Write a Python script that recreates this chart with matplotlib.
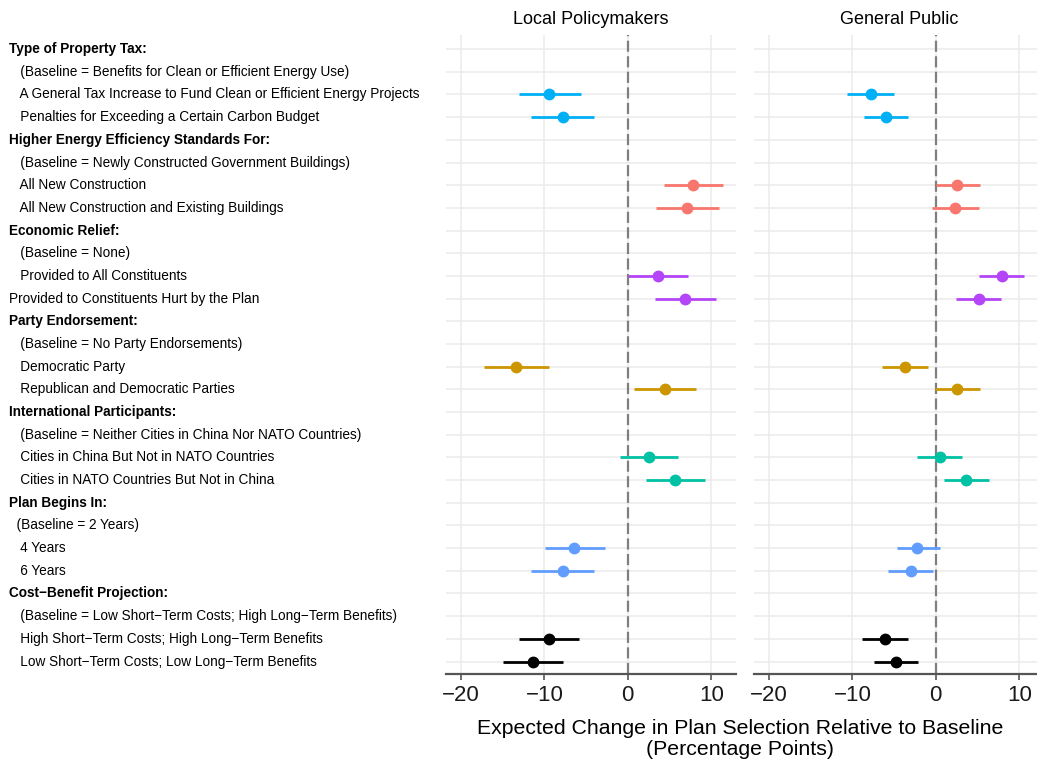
import matplotlib.pyplot as plt
import matplotlib.transforms as mtransforms

plt.rcParams['font.family'] = ['Liberation Sans', 'DejaVu Sans']

# row labels, top to bottom (headers end with ":")
labels = [
    "Type of Property Tax:",
    "   (Baseline = Benefits for Clean or Efficient Energy Use)",
    "   A General Tax Increase to Fund Clean or Efficient Energy Projects",
    "   Penalties for Exceeding a Certain Carbon Budget",
    "Higher Energy Efficiency Standards For:",
    "   (Baseline = Newly Constructed Government Buildings)",
    "   All New Construction",
    "   All New Construction and Existing Buildings",
    "Economic Relief:",
    "   (Baseline = None)",
    "   Provided to All Constituents",
    "Provided to Constituents Hurt by the Plan",
    "Party Endorsement:",
    "   (Baseline = No Party Endorsements)",
    "   Democratic Party",
    "   Republican and Democratic Parties",
    "International Participants:",
    "   (Baseline = Neither Cities in China Nor NATO Countries)",
    "   Cities in China But Not in NATO Countries",
    "   Cities in NATO Countries But Not in China",
    "Plan Begins In:",
    "  (Baseline = 2 Years)",
    "   4 Years",
    "   6 Years",
    "Cost\u2212Benefit Projection:",
    "   (Baseline = Low Short\u2212Term Costs; High Long\u2212Term Benefits)",
    "   High Short\u2212Term Costs; High Long\u2212Term Benefits",
    "   Low Short\u2212Term Costs; Low Long\u2212Term Benefits",
]

# rows that carry an estimate (index into labels) and their group
est_rows = [2, 3, 6, 7, 10, 11, 14, 15, 18, 19, 22, 23, 26, 27]
est_group = [0, 0, 1, 1, 2, 2, 3, 3, 4, 4, 5, 5, 6, 6]
group_colors = ['#00B0F6', '#F8766D', '#B445F8', '#CD9600', '#00C1A3', '#619CFF', '#000000']

# local policymakers
lp_est = [-9.4, -7.8, 7.8, 7.1, 3.6, 6.9, -13.4, 4.45, 2.5, 5.7, -6.4, -7.8, -9.4, -11.4]
lp_lo = [-13.1, -11.6, 4.3, 3.35, 0.0, 3.25, -17.25, 0.8, -0.9, 2.15, -9.95, -11.6, -13.0, -14.95]
lp_hi = [-5.6, -4.1, 11.4, 10.9, 7.2, 10.55, -9.5, 8.2, 6.0, 9.25, -2.7, -4.0, -5.8, -7.8]

# general public
gp_est = [-7.8, -6.0, 2.6, 2.35, 7.9, 5.15, -3.65, 2.6, 0.45, 3.65, -2.2, -3.0, -6.1, -4.8]
gp_lo = [-10.6, -8.55, 0.0, -0.4, 5.15, 2.45, -6.4, -0.1, -2.2, 1.0, -4.7, -5.7, -8.85, -7.4]
gp_hi = [-5.0, -3.3, 5.35, 5.15, 10.6, 7.85, -0.9, 5.35, 3.2, 6.35, 0.45, -0.3, -3.35, -2.1]

fig = plt.figure(figsize=(10.37, 7.62), dpi=100)
ax1 = fig.add_axes([0.430, 0.1155, 0.280, 0.8385])
ax2 = fig.add_axes([0.727, 0.1155, 0.280, 0.8385])

panels = [
    (ax1, "Local Policymakers", lp_est, lp_lo, lp_hi),
    (ax2, "General Public", gp_est, gp_lo, gp_hi),
]

for ax, title, est, lo, hi in panels:
    ax.set_xlim(-21.8, 13.0)
    ax.set_ylim(len(labels) - 0.45, -0.62)
    ax.set_xticks([-20, -10, 0, 10])
    ax.set_yticks(range(len(labels)))
    ax.set_yticklabels([])
    ax.tick_params(axis='y', length=0)
    ax.grid(True, color='#EBEBEB', lw=1.1)
    ax.set_axisbelow(True)
    for s in ['top', 'left', 'right']:
        ax.spines[s].set_visible(False)
    ax.spines['bottom'].set_color('#555555')
    ax.spines['bottom'].set_linewidth(1.6)
    ax.tick_params(axis='x', length=4, width=1.2, color='#555555',
                   labelsize=16, pad=4, labelcolor='#1A1A1A')
    ax.axvline(0, color='#7F7F7F', lw=1.6, ls=(0, (5, 2)), zorder=1.5)
    for i, r in enumerate(est_rows):
        c = group_colors[est_group[i]]
        ax.plot([lo[i], hi[i]], [r, r], color=c, lw=2.0, zorder=3,
                solid_capstyle='butt')
        ax.plot(est[i], r, 'o', color=c, ms=7.5, zorder=4)
    ax.set_title(title, fontsize=13, pad=8)

# row labels in the left margin
trans = mtransforms.blended_transform_factory(fig.transFigure, ax1.transData)
for r, lab in enumerate(labels):
    fig.text(0.0087, r, lab, transform=trans, ha='left', va='center',
             fontsize=9.8, fontweight='bold' if lab.endswith(':') else 'normal')

fig.text(0.714, 0.030, "Expected Change in Plan Selection Relative to Baseline\n(Percentage Points)",
         ha='center', va='center', fontsize=15.3, linespacing=1.18)

fig.savefig('out.png', dpi=100)
